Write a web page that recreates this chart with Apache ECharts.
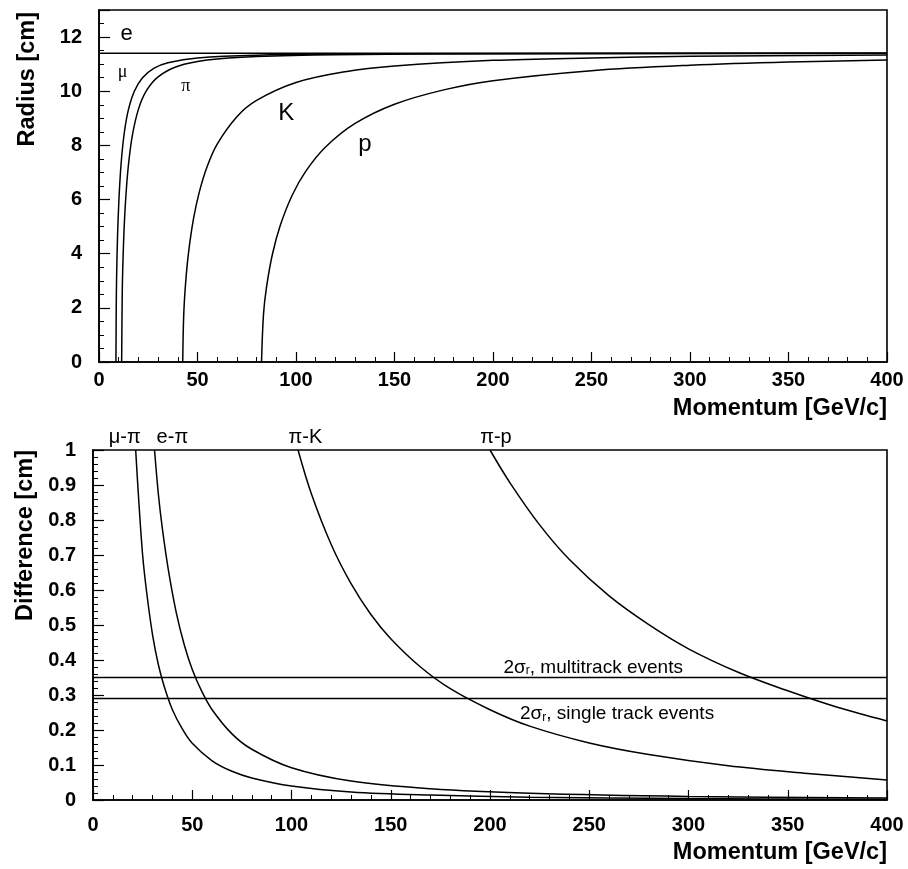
<!DOCTYPE html>
<html><head><meta charset="utf-8">
<script src="https://cdn.jsdelivr.net/npm/echarts@6/dist/echarts.min.js"></script>
<style>html,body{margin:0;padding:0;background:#fff}#c{width:908px;height:869px}</style>
</head><body><div id="c"></div>
<script>
// ---- Top panel: ring radius vs momentum ----
const eMom = [0, 400];
const eRad = [11.4, 11.4];
const muMom = [8.6, 8.8, 9.1, 9.6, 10.5, 11.5, 13, 15, 18, 22, 28, 35, 50, 80, 150, 400];
const muRad = [0, 2.42, 3.73, 5.07, 6.54, 7.57, 8.55, 9.34, 10.01, 10.49, 10.85, 11.05, 11.23, 11.33, 11.38, 11.40];
const piMom = [11.5, 11.8, 12.2, 12.9, 13.9, 15.2, 17, 20, 24, 30, 40, 55, 80, 120, 200, 400];
const piRad = [0, 2.55, 3.81, 5.17, 6.40, 7.45, 8.40, 9.33, 10.01, 10.53, 10.92, 11.15, 11.28, 11.35, 11.38, 11.40];
const kMom = [42.5, 43, 44, 45.5, 48, 51, 55, 60, 70, 80, 100, 125, 150, 200, 250, 300, 400];
const kRad = [0, 1.73, 2.95, 4.07, 5.30, 6.30, 7.24, 8.05, 9.06, 9.66, 10.32, 10.72, 10.93, 11.14, 11.23, 11.29, 11.34];
const pMom = [82.5, 83.5, 85, 88, 92, 98, 105, 115, 130, 150, 175, 200, 250, 300, 350, 400];
const pRad = [0, 1.76, 2.75, 3.97, 5.04, 6.15, 7.05, 7.94, 8.81, 9.52, 10.05, 10.39, 10.76, 10.96, 11.08, 11.15];

// ---- Bottom panel: radius difference vs momentum ----
const muPiMom = [21.5, 23, 25, 27, 30, 33, 36, 40, 45, 50, 60, 70, 80, 100, 130, 170, 220, 300, 400];
const muPiDiff = [1.00, 0.860, 0.700, 0.595, 0.472, 0.385, 0.322, 0.258, 0.203, 0.162, 0.112, 0.082, 0.063, 0.040, 0.023, 0.014, 0.008, 0.004, 0.0025];
const ePiMom = [31, 33, 35, 38, 42, 46, 50, 55, 60, 70, 80, 100, 130, 170, 220, 300, 400];
const ePiDiff = [1.00, 0.870, 0.773, 0.656, 0.534, 0.443, 0.373, 0.308, 0.258, 0.189, 0.145, 0.092, 0.054, 0.032, 0.019, 0.010, 0.006];
const piKMom = [103.3, 110, 120, 130, 140, 150, 165, 180, 200, 220, 250, 280, 320, 360, 400];
const piKDiff = [1.00, 0.875, 0.730, 0.618, 0.530, 0.461, 0.380, 0.318, 0.258, 0.211, 0.163, 0.130, 0.098, 0.076, 0.057];
const piPMom = [200, 210, 225, 240, 260, 280, 300, 325, 350, 375, 400];
const piPDiff = [1.00, 0.907, 0.786, 0.687, 0.583, 0.501, 0.432, 0.365, 0.312, 0.265, 0.226];
const sigmaMom = [0, 400];
const sigmaMulti = [0.35, 0.35];
const sigmaSingle = [0.29, 0.29];

// ---- Text ----
const xName = 'Momentum [GeV/c]';
const yNameTop = 'Radius [cm]';
const yNameBottom = 'Difference [cm]';
const topLabels = ['e', 'μ', 'π', 'K', 'p'];
const bottomLabels = ['μ-π', 'e-π', 'π-K', 'π-p'];

const zip = (a, b) => a.map((v, i) => [v, b[i]]);
const FONT = 'Liberation Sans';

function xAxisCfg(g, margin) {
  return {
    type: 'value', gridIndex: g, min: 0, max: 400, interval: 50,
    axisLine: { lineStyle: { color: '#000', width: 1.6 } },
    axisTick: { inside: true, length: 10, lineStyle: { color: '#000', width: 1.2 } },
    minorTick: { show: true, splitNumber: 5, length: 5, lineStyle: { color: '#000', width: 1 } },
    splitLine: { show: false },
    axisLabel: { color: '#000', fontFamily: FONT, fontWeight: 'bold', fontSize: 20, margin: margin }
  };
}
function yAxisCfg(g, max, interval, minorSplit, hideMax) {
  return {
    type: 'value', gridIndex: g, min: 0, max: max, interval: interval,
    axisLine: { lineStyle: { color: '#000', width: 1.6 } },
    axisTick: { inside: true, length: 11, lineStyle: { color: '#000', width: 1.2 } },
    minorTick: { show: true, splitNumber: minorSplit, length: 5, lineStyle: { color: '#000', width: 1 } },
    splitLine: { show: false },
    axisLabel: {
      color: '#000', fontFamily: FONT, fontWeight: 'bold', fontSize: 20, margin: 17,
      formatter: v => (hideMax && v > max - 1e-9) ? '' : String(+v.toFixed(2))
    }
  };
}
function lineSeries(x, data) {
  return {
    type: 'line', xAxisIndex: x, yAxisIndex: x, data: data, showSymbol: false, symbol: 'none',
    smooth: 0.35, silent: true,
    lineStyle: { color: '#000', width: 1.5 }
  };
}

const chart = echarts.init(document.getElementById('c'), null, { renderer: 'canvas' });
const option = {
  backgroundColor: '#fff',
  animation: false,
  grid: [
    { left: 99, right: 21, top: 10, height: 352, show: true, borderColor: '#000', borderWidth: 1.6, backgroundColor: 'transparent' },
    { left: 93, right: 21, top: 450, height: 350, show: true, borderColor: '#000', borderWidth: 1.6, backgroundColor: 'transparent' }
  ],
  xAxis: [xAxisCfg(0, 8), xAxisCfg(1, 15)],
  yAxis: [yAxisCfg(0, 13, 2, 4, true), yAxisCfg(1, 1, 0.1, 5, false)],
  series: [
    lineSeries(0, zip(eMom, eRad)),
    lineSeries(0, zip(muMom, muRad)),
    lineSeries(0, zip(piMom, piRad)),
    lineSeries(0, zip(kMom, kRad)),
    lineSeries(0, zip(pMom, pRad)),
    lineSeries(1, zip(muPiMom, muPiDiff)),
    lineSeries(1, zip(ePiMom, ePiDiff)),
    lineSeries(1, zip(piKMom, piKDiff)),
    lineSeries(1, zip(piPMom, piPDiff)),
    lineSeries(1, zip(sigmaMom, sigmaMulti)),
    lineSeries(1, zip(sigmaMom, sigmaSingle))
  ]
};
chart.setOption(option);

const px = (g, x, y) => chart.convertToPixel({ gridIndex: g }, [x, y]);
const els = [];
function txt(p, text, font, extra) {
  els.push({
    type: 'text', x: p[0], y: p[1], silent: true,
    style: Object.assign({
      text: text, fill: '#000', font: font,
      align: 'center', verticalAlign: 'middle', textAlign: 'center', textVerticalAlign: 'middle'
    }, extra || {})
  });
}
// particle labels in the top panel
txt(px(0, 14, 12.1), topLabels[0], 'normal 22px "Liberation Sans"');
txt(px(0, 12, 10.7), topLabels[1], 'normal 18px "Liberation Serif"');
txt(px(0, 44, 10.2), topLabels[2], 'normal 18px "Liberation Serif"');
txt(px(0, 95, 9.2), topLabels[3], 'normal 24px "Liberation Sans"');
txt(px(0, 135, 8.05), topLabels[4], 'normal 24px "Liberation Sans"');
// pair labels above the bottom panel
const pairFont = 'normal 20px "Liberation Sans"';
txt(px(1, 16, 1.037), bottomLabels[0], pairFont);
txt(px(1, 40, 1.037), bottomLabels[1], pairFont);
txt(px(1, 107, 1.037), bottomLabels[2], pairFont);
txt(px(1, 203, 1.037), bottomLabels[3], pairFont);
// sigma annotations
const rich = {
  a: { fontFamily: FONT, fontSize: 19, lineHeight: 22, verticalAlign: 'bottom', fill: '#000' },
  s: { fontFamily: FONT, fontSize: 12, lineHeight: 6, verticalAlign: 'bottom', fill: '#000' }
};
const pm = px(1, 252, 0.383);
els.push({ type: 'text', x: pm[0], y: pm[1], silent: true,
  style: { text: '{a|2σ}{s|r}{a|, multitrack events}', rich: rich, align: 'center', verticalAlign: 'middle', textAlign: 'center', textVerticalAlign: 'middle' } });
const ps = px(1, 264, 0.25);
els.push({ type: 'text', x: ps[0], y: ps[1], silent: true,
  style: { text: '{a|2σ}{s|r}{a|, single track events}', rich: rich, align: 'center', verticalAlign: 'middle', textAlign: 'center', textVerticalAlign: 'middle' } });
// axis names
const nameFont = 'bold 23.5px "Liberation Sans"';
const xe0 = px(0, 400, 0), xe1 = px(1, 400, 0);
txt([xe0[0], xe0[1] + 47], xName, nameFont, { align: 'right', textAlign: 'right' });
txt([xe1[0], xe1[1] + 53], xName, nameFont, { align: 'right', textAlign: 'right' });
els.push({ type: 'text', x: 28, y: 12, rotation: Math.PI / 2, silent: true,
  style: { text: yNameTop, font: nameFont, fill: '#000', align: 'right', verticalAlign: 'middle', textAlign: 'right', textVerticalAlign: 'middle' } });
els.push({ type: 'text', x: 26, y: 450, rotation: Math.PI / 2, silent: true,
  style: { text: yNameBottom, font: nameFont, fill: '#000', align: 'right', verticalAlign: 'middle', textAlign: 'right', textVerticalAlign: 'middle' } });

chart.setOption({ graphic: { elements: els } });
</script>
</body></html>
